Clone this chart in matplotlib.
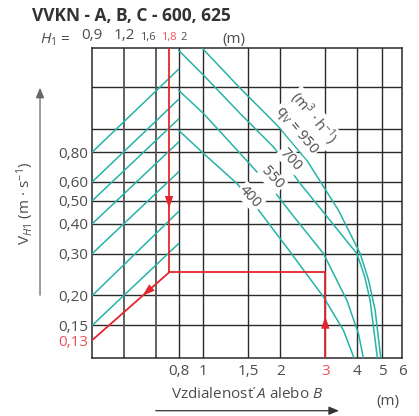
import matplotlib
matplotlib.use("Agg")
import matplotlib.pyplot as plt
import numpy as np
from matplotlib.ticker import NullLocator
from matplotlib.transforms import blended_transform_factory

plt.rcParams["font.family"] = ["Open Sans", "DejaVu Sans"]
plt.rcParams["mathtext.fontset"] = "custom"
plt.rcParams["mathtext.rm"] = "Open Sans"
plt.rcParams["mathtext.it"] = "Open Sans:italic"

TEAL = "#26b3a8"
RED = "#e3262d"
RED_TXT = "#e8545a"
GRID = "#2a2a2a"
TXT = "#4d4d4d"

TITLE = "VVKN - A, B, C - 600, 625"

# velocity V_H1 (m/s), left scale
v_ticks = [0.13, 0.15, 0.20, 0.30, 0.40, 0.50, 0.60, 0.80]
v_labels = ["0,13", "0,15", "0,20", "0,30", "0,40", "0,50", "0,60", "0,80"]
v_grid = [0.15, 0.2, 0.3, 0.4, 0.5, 0.6, 0.8, 1.0, 1.5]

# distance A or B (m), bottom scale
dist_ticks = [0.8, 1, 1.5, 2, 3, 4, 5, 6]
dist_labels = ["0,8", "1", "1,5", "2", "3", "4", "5", "6"]

# mounting height H1 (m), top scale
h1_ticks = [0.9, 1.2, 1.6, 1.8, 2.0]
h1_labels = ["0,9", "1,2", "1,6", "1,8", "2"]
h1_big = [True, True, False, False, False]
h1_align = ["center", "center", "right", "center", "left"]
H1_PER_M = 2.45

# transfer lines: velocity at left edge -> velocity at the 0,8 m line
diag_start = [0.15, 0.20, 0.30, 0.40, 0.50, 0.60, 0.80]
diag_end = [0.33, 0.45, 0.66, 0.88, 1.10, 1.33, 1.78]

# throw curves for each airflow q_v (m3/h)
q400_x = [0.801, 1.003, 1.354, 1.670, 2.187, 2.951, 3.532, 3.890]
q400_v = [0.987, 0.788, 0.590, 0.447, 0.3046, 0.1972, 0.1429, 0.109]
q550_x = [0.801, 1.003, 1.395, 1.855, 2.253, 2.951, 3.642, 4.043, 4.229]
q550_v = [1.452, 1.159, 0.788, 0.563, 0.430, 0.2999, 0.191, 0.1384, 0.109]
q700_x = [0.801, 1.003, 1.395, 1.882, 2.393, 2.909, 3.985, 4.274, 4.490, 4.797]
q700_v = [2.137, 1.679, 1.159, 0.8396, 0.5897, 0.4556, 0.2999, 0.2408, 0.191, 0.109]
q950_x = [0.994, 1.395, 1.963, 2.542, 3.378, 4.106, 4.431, 4.697, 4.945]
q950_v = [2.172, 1.480, 1.025, 0.738, 0.4556, 0.2999, 0.2317, 0.1741, 0.109]

# worked example
EX_H1 = 1.8
EX_DIST = 3.0
EX_V_MID = 0.25
EX_V_RESULT = 0.13

X_LIM = (0.368, 6.0)
V_LIM = (0.109, 2.18)


def red_arrow(ax, p0, p1, frac, back=0.08):
    # filled head on the segment p0 -> p1 (log-log), tip at frac
    lx = np.log10([p0[0], p1[0]])
    lv = np.log10([p0[1], p1[1]])

    def at(f):
        return 10 ** (lx[0] + f * (lx[1] - lx[0])), 10 ** (lv[0] + f * (lv[1] - lv[0]))

    ax.annotate("", xy=at(frac), xytext=at(frac - back),
                arrowprops=dict(arrowstyle="-|>,head_length=0.9,head_width=0.3",
                                color=RED, lw=0, shrinkA=0, shrinkB=0,
                                mutation_scale=10), zorder=6)


fig = plt.figure(figsize=(4.19, 4.16), dpi=100)
ax = fig.add_axes([0.2203, 0.1387, 0.7398, 0.7452])
ax.set_xscale("log")
ax.set_yscale("log")
ax.set_xlim(*X_LIM)
ax.set_ylim(*V_LIM)

for s in ax.spines.values():
    s.set_color(GRID)
    s.set_linewidth(1.1)

for v in v_grid:
    ax.axhline(v, color=GRID, lw=1.0, zorder=1)
for d in dist_ticks[:-1]:
    ax.axvline(d, color=GRID, lw=1.0, zorder=1)
for h in h1_ticks[1:3]:
    ax.axvline(h / H1_PER_M, color="#555555", lw=1.3, zorder=1)

ax.set_yticks(v_ticks, v_labels)
ax.set_xticks(dist_ticks, dist_labels)
ax.xaxis.set_minor_locator(NullLocator())
ax.yaxis.set_minor_locator(NullLocator())
ax.tick_params(length=0, labelsize=11, labelcolor=TXT)
ax.tick_params(axis="y", pad=3)
ax.tick_params(axis="x", pad=4)
ax.get_yticklabels()[0].set_color(RED_TXT)
ax.get_xticklabels()[dist_ticks.index(EX_DIST)].set_color(RED_TXT)

# H1 scale above the frame
top = blended_transform_factory(ax.transData, ax.transAxes)
for h, lab, big, ha in zip(h1_ticks, h1_labels, h1_big, h1_align):
    col = RED_TXT if h == EX_H1 else TXT
    ax.text(h / H1_PER_M, 1.016, lab, transform=top, ha=ha, va="bottom",
            fontsize=11 if big else 8, color=col)
fig.text(0.0955, 0.896, r"$\mathit{H}_{1}$ =", fontsize=11, color=TXT,
         ha="left", va="baseline")
fig.text(0.530, 0.896, "(m)", fontsize=11, color=TXT, ha="left", va="baseline")

# transfer lines
for v0, v1 in zip(diag_start, diag_end):
    ax.plot([X_LIM[0], 0.8], [v0, v1], color=TEAL, lw=1.1, zorder=3)

# throw curves
for xs, vs in [(q400_x, q400_v), (q550_x, q550_v), (q700_x, q700_v), (q950_x, q950_v)]:
    ax.plot(xs, vs, color=TEAL, lw=1.1, zorder=3)

lab_kw = dict(ha="center", va="center", rotation=-47, rotation_mode="anchor",
              fontsize=10.5, color=TXT, zorder=5,
              bbox=dict(facecolor="white", edgecolor="none", pad=1.0))
ax.text(1.526, 0.518, "400", **lab_kw)
ax.text(1.855, 0.6205, "550", **lab_kw)
ax.text(2.197, 0.7456, "700", **lab_kw)
ax.text(2.308, 0.9866, r"q$_{\mathrm{V}}$ = 950", **{**lab_kw, "rotation": -50})
ax.text(2.690, 1.108, r"(m$^{3}$ · h$^{-1}$)", **{**lab_kw, "rotation": -50})

# worked example in red
x_h1 = EX_H1 / H1_PER_M
ax.plot([x_h1, x_h1], [V_LIM[1], EX_V_MID], color=RED, lw=1.3, zorder=4)
ax.plot([x_h1, EX_DIST], [EX_V_MID, EX_V_MID], color=RED, lw=1.3, zorder=4)
ax.plot([EX_DIST, EX_DIST], [V_LIM[0], EX_V_MID], color=RED, lw=1.3, zorder=4)
ax.plot([x_h1, X_LIM[0]], [EX_V_MID, EX_V_RESULT], color=RED, lw=1.3, zorder=4)
red_arrow(ax, (x_h1, V_LIM[1]), (x_h1, EX_V_MID), 0.715)
red_arrow(ax, (EX_DIST, V_LIM[0]), (EX_DIST, EX_V_MID), 0.49, back=0.15)
red_arrow(ax, (x_h1, EX_V_MID), (X_LIM[0], EX_V_RESULT), 0.345, back=0.12)

# axis titles with their arrows
fig.text(0.0597, 0.512, r"V$_{\mathit{H1}}$ (m · s$^{\mathrm{-1}}$)", rotation=90,
         fontsize=11, color=TXT, ha="center", va="center")
fig.add_artist(matplotlib.patches.FancyArrowPatch(
    (0.0955, 0.2837), (0.0955, 0.7957), transform=fig.transFigure,
    arrowstyle="-|>,head_length=0.6,head_width=0.25", mutation_scale=10,
    color="#666666", lw=0.9))
fig.text(0.5907, 0.0505, r"Vzdialenosť $\mathit{A}$ alebo $\mathit{B}$",
         fontsize=11, color=TXT, ha="center", va="center")
fig.text(0.9267, 0.0344, "(m)", fontsize=11, color=TXT, ha="center", va="center")
fig.add_artist(matplotlib.patches.FancyArrowPatch(
    (0.365, 0.0127), (0.8155, 0.0127), transform=fig.transFigure,
    arrowstyle="-|>,head_length=0.6,head_width=0.25", mutation_scale=10,
    color="#333333", lw=0.9))

fig.text(0.0757, 0.9502, TITLE, fontsize=12.5, fontweight="bold", color="#333333",
         ha="left", va="baseline")

fig.savefig("out.png", dpi=100)
